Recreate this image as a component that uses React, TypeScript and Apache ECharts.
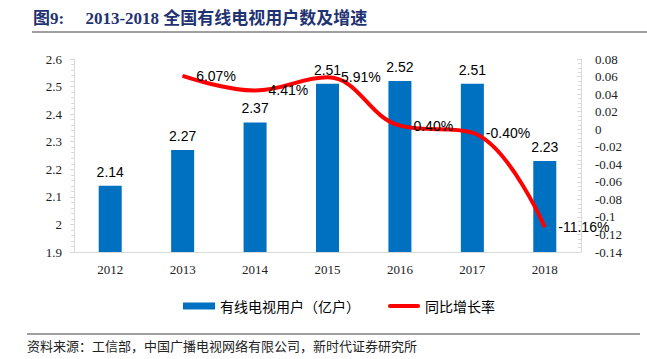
import React, { useEffect, useRef } from "react";
import * as echarts from "echarts";

const years = ["2012", "2013", "2014", "2015", "2016", "2017", "2018"];
const users = [2.14, 2.27, 2.37, 2.51, 2.52, 2.51, 2.23];
const growth = [null, 0.0607, 0.0441, 0.0591, 0.004, -0.004, -0.1116];
const titleText = "图9:     2013-2018 全国有线电视用户数及增速";
const sourceText = "资料来源：工信部，中国广播电视网络有限公司，新时代证券研究所";
const barName = "有线电视用户（亿户）";
const lineName = "同比增长率";

export default function App() {
  const ref = useRef<HTMLDivElement>(null);
  useEffect(() => {
    const chart = echarts.init(ref.current!, null, { renderer: "svg" });
    const serif = "'Liberation Serif', 'Noto Sans CJK SC', serif";
    const sans = "'Liberation Sans', 'Noto Sans CJK SC', sans-serif";
    chart.setOption({
      animation: false,
      backgroundColor: "#fff",
      grid: { left: 74, right: 66, top: 59, bottom: 107, containLabel: false },
      legend: {
        left: 178,
        top: 294,
        itemWidth: 32,
        itemHeight: 7,
        itemGap: 28,
        textStyle: { fontFamily: "'Noto Sans CJK SC', sans-serif", fontSize: 14, color: "#000" },
        data: [
          { name: barName, icon: "rect" },
          { name: lineName, icon: "path://M2,0 L30,0 A2,2 0 0 1 30,4 L2,4 A2,2 0 0 1 2,0 Z" },
        ],
      },
      xAxis: {
        type: "category",
        data: years,
        axisLine: { show: true, onZero: false, lineStyle: { color: "#D9D9D9", width: 1 } },
        axisTick: { show: false },
        axisLabel: { fontFamily: serif, fontSize: 13, color: "#222", margin: 11 },
      },
      yAxis: [
        {
          type: "value",
          min: 1.9,
          max: 2.6,
          interval: 0.1,
          axisLine: { show: true, lineStyle: { color: "#D9D9D9" } },
          axisTick: { show: true, length: 4, lineStyle: { color: "#D9D9D9" } },
          minorTick: { show: true, splitNumber: 5, length: 3, lineStyle: { color: "#D9D9D9" } },
          splitLine: { show: false },
          axisLabel: { fontFamily: serif, fontSize: 13, color: "#222", margin: 12 },
        },
        {
          type: "value",
          min: -0.14,
          max: 0.08,
          interval: 0.02,
          position: "right",
          axisLine: { show: true, lineStyle: { color: "#D9D9D9" } },
          axisTick: { show: true, inside: true, length: 4, lineStyle: { color: "#D9D9D9" } },
          minorTick: { show: true, splitNumber: 4, length: 3, lineStyle: { color: "#D9D9D9" } },
          splitLine: { show: false },
          axisLabel: { fontFamily: serif, fontSize: 13, color: "#222", margin: 14, align: "left" },
        },
      ],
      series: [
        {
          name: barName,
          type: "bar",
          data: users,
          barWidth: 23,
          itemStyle: { color: "#0070C0" },
          label: {
            show: true,
            position: "top",
            distance: 7,
            fontFamily: sans,
            fontSize: 14,
            color: "#000",
          },
        },
        {
          name: lineName,
          type: "line",
          yAxisIndex: 1,
          data: growth,
          smooth: 0.4,
          symbol: "circle",
          symbolSize: 1,
          itemStyle: { color: "#FF0000" },
          lineStyle: { color: "#FF0000", width: 4 },
          label: {
            show: true,
            position: "right",
            distance: 13,
            fontFamily: sans,
            fontSize: 14,
            color: "#000",
            formatter: (p: any) => (p.value * 100).toFixed(2) + "%",
          },
          z: 3,
        },
      ],
      graphic: [
        {
          type: "text",
          left: 33,
          top: 10,
          style: {
            text: titleText,
            font: "bold 17px 'Liberation Serif', 'Noto Sans CJK SC', serif",
            fill: "#1F3272",
          },
        },
        {
          type: "line",
          shape: { x1: 32, y1: 32, x2: 647, y2: 32 },
          style: { stroke: "#808080", lineWidth: 1.5 },
        },
        {
          type: "line",
          shape: { x1: 27, y1: 334, x2: 640, y2: 334 },
          style: { stroke: "#808080", lineWidth: 1.5 },
        },
        {
          type: "text",
          left: 27,
          top: 339,
          style: {
            text: sourceText,
            font: "13px 'Noto Sans CJK SC', sans-serif",
            fill: "#222",
          },
        },
      ],
    });
    return () => chart.dispose();
  }, []);
  return <div ref={ref} style={{ width: 647, height: 359, position: "absolute", left: 0, top: 0 }} />;
}
